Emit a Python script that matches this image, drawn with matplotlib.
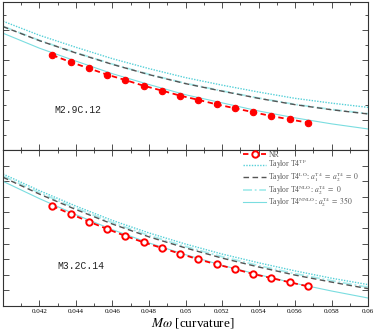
import numpy as np
import matplotlib
matplotlib.use("Agg")
import matplotlib.pyplot as plt
from matplotlib.ticker import MultipleLocator, FixedLocator, FixedFormatter, FuncFormatter

plt.rcParams['font.family'] = ['Liberation Serif', 'DejaVu Serif']
plt.rcParams['mathtext.fontset'] = 'stix'

# frequency grid for the PN curves and for the NR points
x_curve = [0.040, 0.042, 0.044, 0.046, 0.048, 0.050, 0.052, 0.054, 0.056, 0.058, 0.060]
x_nr = [0.0427, 0.0437, 0.0447, 0.0457, 0.0467, 0.0477, 0.0487, 0.0497,
        0.0507, 0.0517, 0.0527, 0.0537, 0.0547, 0.0557, 0.0567]

# M2.9C.12 (upper panel)
nr_a = [3.16, 2.93, 2.72, 2.51, 2.33, 2.14, 1.98, 1.81, 1.67, 1.52, 1.39, 1.26, 1.13, 1.02, 0.91]
tf_a = [4.29, 3.82, 3.42, 3.04, 2.71, 2.41, 2.16, 1.93, 1.72, 1.56, 1.42]
lo_a = [4.11, 3.64, 3.23, 2.85, 2.51, 2.21, 1.96, 1.72, 1.51, 1.34, 1.20]
nlo_a = [4.12, 3.65, 3.24, 2.86, 2.52, 2.22, 1.97, 1.73, 1.52, 1.35, 1.21]
nnlo_a = [3.89, 3.39, 2.96, 2.54, 2.18, 1.84, 1.57, 1.30, 1.07, 0.87, 0.70]

# M3.2C.14 (lower panel)
nr_b = [6.41, 5.90, 5.41, 4.94, 4.49, 4.08, 3.72, 3.35, 2.99, 2.67, 2.37, 2.05, 1.79, 1.52, 1.26]
tf_b = [8.46, 7.39, 6.40, 5.48, 4.68, 3.97, 3.33, 2.77, 2.25, 1.78, 1.37]
lo_b = [8.25, 7.17, 6.18, 5.25, 4.43, 3.72, 3.07, 2.50, 1.98, 1.53, 1.11]
nlo_b = [8.33, 7.26, 6.27, 5.34, 4.52, 3.81, 3.16, 2.59, 2.07, 1.62, 1.20]
nnlo_b = [7.99, 6.88, 5.85, 4.89, 4.04, 3.29, 2.61, 2.01, 1.45, 0.96, 0.51]

labels = ['NR',
          r'Taylor T4$^{\rm TF}$',
          r'Taylor T4$^{\rm LO}$: $a_1^{\rm T4}\ =\ a_2^{\rm T4}\ =\ 0$',
          r'Taylor T4$^{\rm NLO}$: $a_2^{\rm T4}\ =\ 0$',
          r'Taylor T4$^{\rm NNLO}$: $a_2^{\rm T4}\ =\ 350$']
xtick_vals = [0.040, 0.042, 0.044, 0.046, 0.048, 0.050, 0.052, 0.054, 0.056, 0.058, 0.060]
xtick_text = ['', '0.042', '0.044', '0.046', '0.048', '0.05', '0.052', '0.054', '0.056', '0.058', '0.06']

fig = plt.figure(figsize=(3.74, 3.29), dpi=100)
gs = fig.add_gridspec(2, 1, left=0.008, right=0.984, top=0.994, bottom=0.070,
                      hspace=0, height_ratios=[148, 156])
ax1 = fig.add_subplot(gs[0])
ax2 = fig.add_subplot(gs[1], sharex=ax1)


def draw(ax, nr, tf, lo, nlo, nnlo, ringed):
    h_tf, = ax.plot(x_curve, tf, color='#55d0d8', lw=1.0, ls=(0, (1, 1)))
    h_nlo, = ax.plot(x_curve, nlo, color='#a8ecec', lw=1.3, ls=(0, (5, 1.5, 1, 1.5)))
    h_lo, = ax.plot(x_curve, lo, color='#555555', lw=1.0, ls=(0, (4, 2.5)))
    h_nnlo, = ax.plot(x_curve, nnlo, color='#7adde0', lw=0.8, ls='-')
    h_nr, = ax.plot(x_nr, nr, color='red', lw=1.3, ls=(0, (3, 2)), marker='o', ms=4.6,
                    mfc='white' if ringed else 'red', mec='red', mew=1.4 if ringed else 0.8)
    return [h_nr, h_tf, h_lo, h_nlo, h_nnlo]


draw(ax1, nr_a, tf_a, lo_a, nlo_a, nnlo_a, False)
handles = draw(ax2, nr_b, tf_b, lo_b, nlo_b, nnlo_b, True)

ax1.set_xlim(0.040, 0.060)
ax1.set_ylim(0, 4.93)
ax2.set_ylim(0, 10)

for ax in (ax1, ax2):
    ax.tick_params(which='both', direction='in', top=True, right=True,
                   labelsize=5, width=0.6, color='#333333')
    ax.tick_params(which='major', length=4)
    ax.tick_params(which='minor', length=2)
    ax.xaxis.set_major_locator(FixedLocator(xtick_vals))
    ax.xaxis.set_minor_locator(MultipleLocator(0.001))
    for s in ax.spines.values():
        s.set_linewidth(0.8)
        s.set_color('#333333')

ax1.yaxis.set_major_locator(MultipleLocator(1))
ax1.yaxis.set_minor_locator(MultipleLocator(0.5))
ax2.yaxis.set_major_locator(MultipleLocator(1))
ax2.yaxis.set_major_formatter(FuncFormatter(lambda v, p: '' if v > 9.5 else f'{v:g}'))
ax1.tick_params(axis='x', labelbottom=False)
ax2.xaxis.set_major_formatter(FixedFormatter(xtick_text))
ax2.tick_params(axis='x', pad=2.5)

ax1.text(0.142, 0.27, 'M2.9C.12', transform=ax1.transAxes, family='Liberation Mono',
         fontsize=7, va='center', ha='left', color='#222222')
ax2.text(0.148, 0.256, 'M3.2C.14', transform=ax2.transAxes, family='Liberation Mono',
         fontsize=7, va='center', ha='left', color='#222222')

leg = ax2.legend(handles, labels, loc='upper left', bbox_to_anchor=(0.655, 1.0), frameon=False,
                 fontsize=5.5, handlelength=3.0, handletextpad=0.3, labelspacing=-0.15,
                 borderpad=0.15, borderaxespad=0)
for t in leg.get_texts():
    t.set_color('#555555')

fig.text(0.516, 0.019, r'$M\omega$ [curvature]', fontsize=9.5, ha='center', va='center')

fig.savefig('out.png', dpi=100)
